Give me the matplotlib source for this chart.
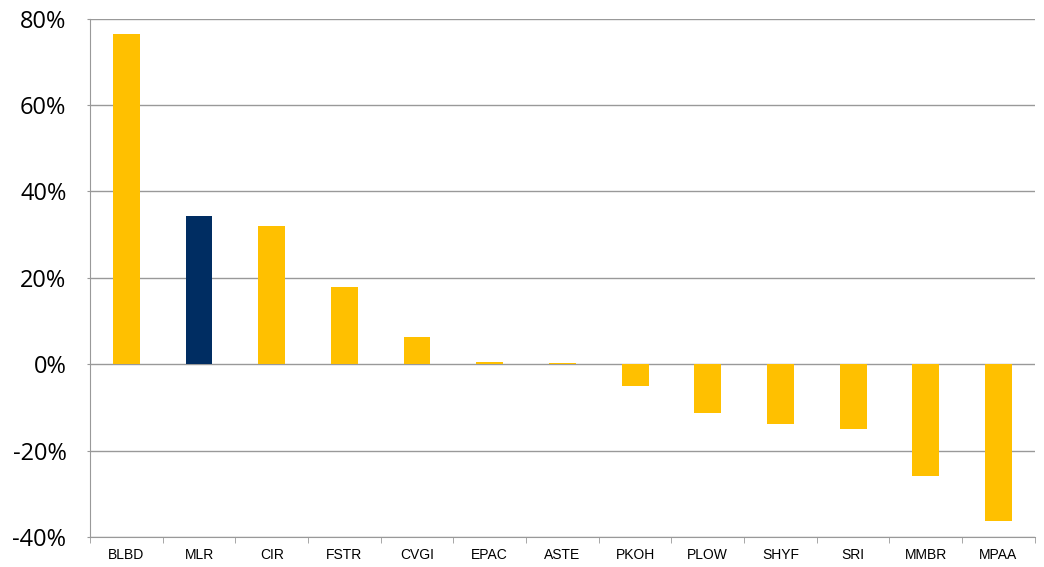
import matplotlib.pyplot as plt
from matplotlib.ticker import FuncFormatter

tickers = ["BLBD", "MLR", "CIR", "FSTR", "CVGI", "EPAC", "ASTE",
           "PKOH", "PLOW", "SHYF", "SRI", "MMBR", "MPAA"]
returns = [76.4, 34.4, 32.1, 17.8, 6.2, 0.6, 0.2,
           -5.1, -11.2, -13.9, -15.0, -25.9, -36.3]
highlight = "MLR"

colors = ["#002D62" if t == highlight else "#FFC000" for t in tickers]

fig = plt.figure(figsize=(10.44, 5.67), dpi=100)
ax = fig.add_axes([0.0862, 0.053, 0.905, 0.914])

x = range(len(tickers))
ax.bar(x, returns, width=0.37, color=colors, zorder=3)

ax.set_ylim(-40, 80)
ax.set_yticks(range(-40, 81, 20))
ax.yaxis.set_major_formatter(FuncFormatter(lambda v, p: "%d%%" % v))
ax.set_yticklabels(["%d%%" % v for v in range(-40, 81, 20)],
                   fontsize=17, family="Open Sans")
ax.set_xlim(-0.5, len(tickers) - 0.5)
ax.set_xticks(list(x))
ax.set_xticklabels(tickers, fontsize=10, family="Liberation Sans")
ax.set_xticks([i - 0.5 for i in range(len(tickers) + 1)], minor=True)

ax.grid(axis="y", color="#999999", linewidth=1, zorder=0)
ax.tick_params(axis="y", length=2, color="#999999", pad=15)
ax.tick_params(axis="x", which="major", length=0, pad=8)
ax.tick_params(axis="x", which="minor", length=4, color="#999999")

for s in ["top", "right"]:
    ax.spines[s].set_visible(False)
for s in ["left", "bottom"]:
    ax.spines[s].set_color("#999999")

plt.savefig("out.png")
